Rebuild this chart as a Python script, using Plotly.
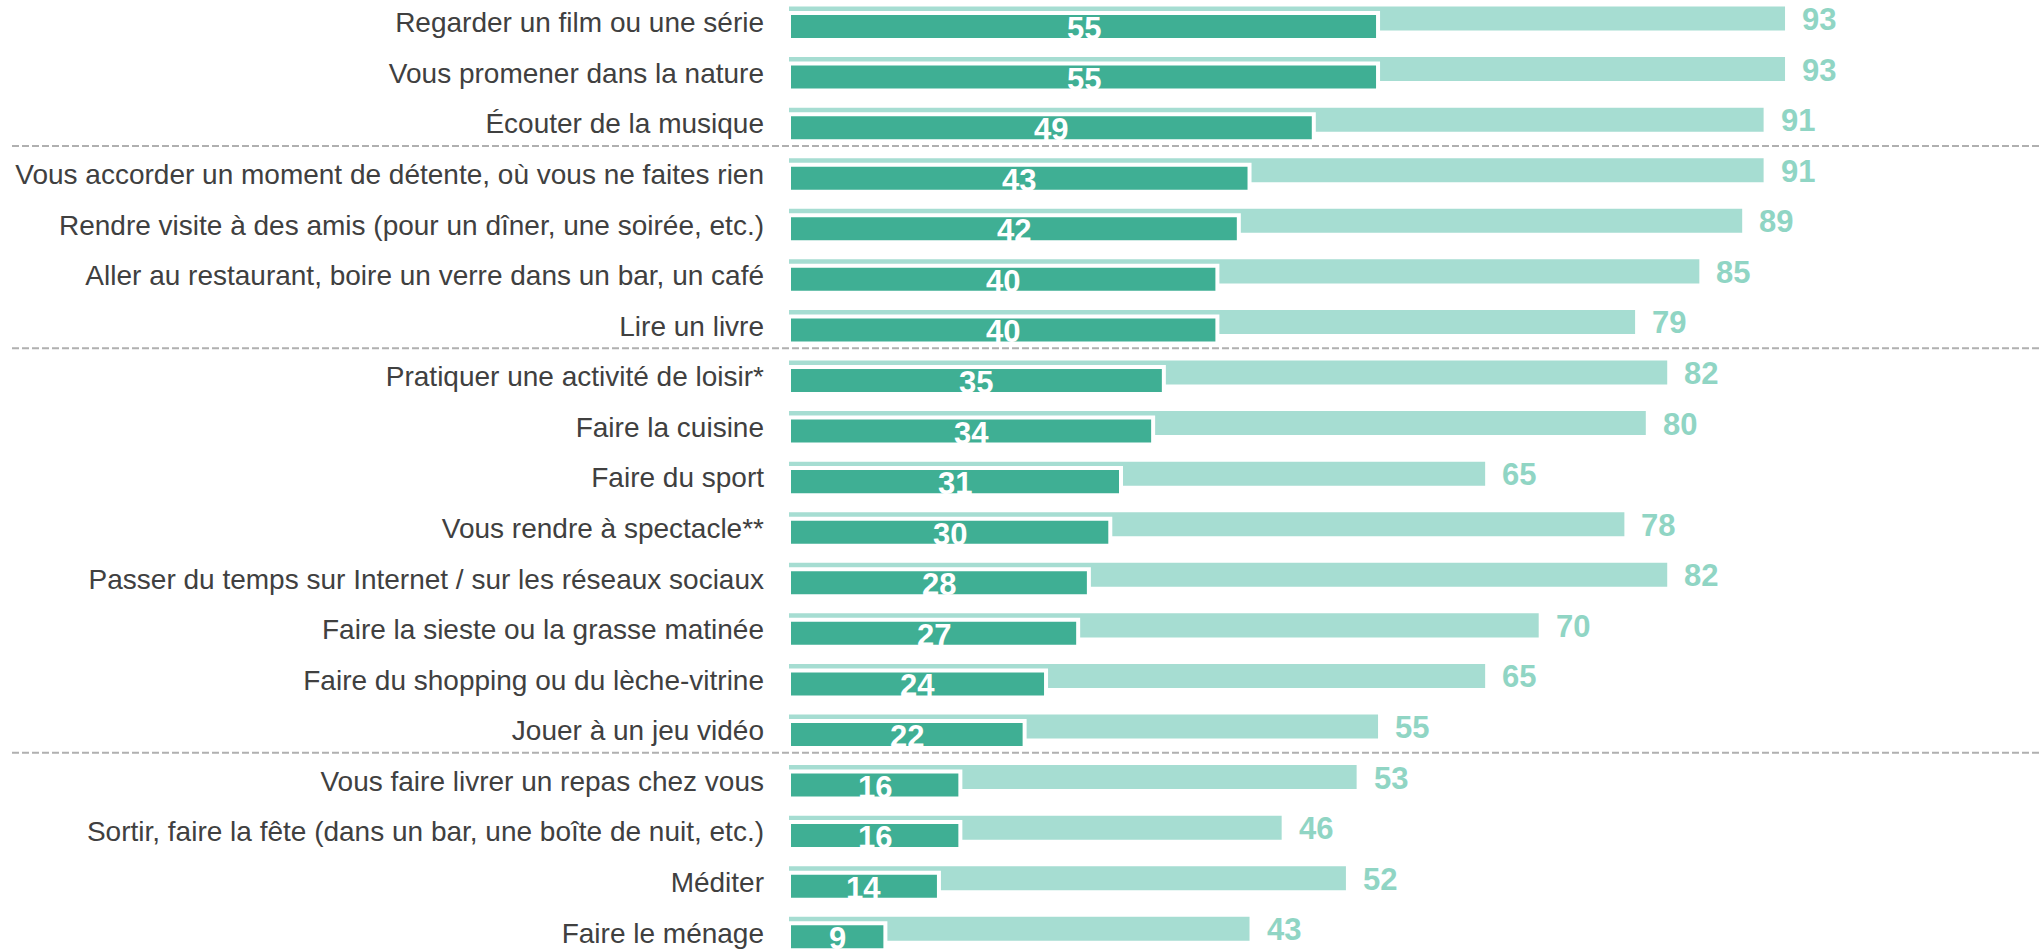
import plotly.graph_objects as go

categories = [
    "Regarder un film ou une série",
    "Vous promener dans la nature",
    "Écouter de la musique",
    "Vous accorder un moment de détente, où vous ne faites rien",
    "Rendre visite à des amis (pour un dîner, une soirée, etc.)",
    "Aller au restaurant, boire un verre dans un bar, un café",
    "Lire un livre",
    "Pratiquer une activité de loisir*",
    "Faire la cuisine",
    "Faire du sport",
    "Vous rendre à spectacle**",
    "Passer du temps sur Internet / sur les réseaux sociaux",
    "Faire la sieste ou la grasse matinée",
    "Faire du shopping ou du lèche-vitrine",
    "Jouer à un jeu vidéo",
    "Vous faire livrer un repas chez vous",
    "Sortir, faire la fête (dans un bar, une boîte de nuit, etc.)",
    "Méditer",
    "Faire le ménage",
]
dark_values = [55, 55, 49, 43, 42, 40, 40, 35, 34, 31, 30, 28, 27, 24, 22, 16, 16, 14, 9]
light_values = [93, 93, 91, 91, 89, 85, 79, 82, 80, 65, 78, 82, 70, 65, 55, 53, 46, 52, 43]
group_last_rows = [2, 6, 14]

DARK = "#3faf94"
LIGHT = "#a6ddd2"
LIGHT_TEXT = "#90d5c4"
FONT = "Liberation Sans, Arial, sans-serif"

W, H = 2039, 951
ML = 789
PX_PER_UNIT = 10.71
X_MAX = (W - ML) / PX_PER_UNIT
ROW_PX = 50.57
Y_TOP = -22.5 / ROW_PX
Y_BOT = Y_TOP + H / ROW_PX

pos = list(range(len(categories)))

fig = go.Figure()
fig.add_trace(go.Bar(
    y=pos, x=light_values, orientation="h",
    offset=-0.316, width=0.475,
    marker=dict(color=LIGHT, line=dict(width=0)),
    hoverinfo="skip",
))
fig.add_trace(go.Bar(
    y=pos, x=dark_values, orientation="h",
    offset=-0.188, width=0.534,
    marker=dict(color=DARK, line=dict(width=4, color="white")),
    hoverinfo="skip",
))

annotations = []
for i, (d, l) in enumerate(zip(dark_values, light_values)):
    annotations.append(dict(
        x=d / 2, y=i + 0.12, xref="x", yref="y", text=str(d), showarrow=False,
        xanchor="center", yanchor="middle", borderpad=0,
        font=dict(family=FONT, size=31, color="white", weight="bold"),
    ))
    annotations.append(dict(
        x=l, y=i - 0.06, xref="x", yref="y", text=str(l), showarrow=False,
        xanchor="left", yanchor="middle", xshift=16, borderpad=0,
        font=dict(family=FONT, size=31, color=LIGHT_TEXT, weight="bold"),
    ))

plot_w = W - ML
shapes = []
for r in group_last_rows:
    shapes.append(dict(
        type="line", xref="paper", yref="y",
        x0=(12 - ML) / plot_w, x1=1.0, y0=r + 0.44, y1=r + 0.44,
        line=dict(color="#b0b0b0", width=2, dash="7px,3px"),
    ))

fig.update_layout(
    width=W, height=H,
    margin=dict(l=ML, r=0, t=0, b=0),
    barmode="overlay",
    showlegend=False,
    plot_bgcolor="white", paper_bgcolor="white",
    annotations=annotations,
    shapes=shapes,
    xaxis=dict(range=[0, X_MAX], visible=False, fixedrange=True),
    yaxis=dict(
        range=[Y_BOT, Y_TOP], tickmode="array", tickvals=pos, ticktext=categories,
        showgrid=False, zeroline=False, showline=False, ticks="",
        ticklabelstandoff=24,
        tickfont=dict(family=FONT, size=28, color="#404040"),
        fixedrange=True,
    ),
)

fig.write_html("out.html", config={"displayModeBar": False},
               post_script="document.body.style.margin='0';")
